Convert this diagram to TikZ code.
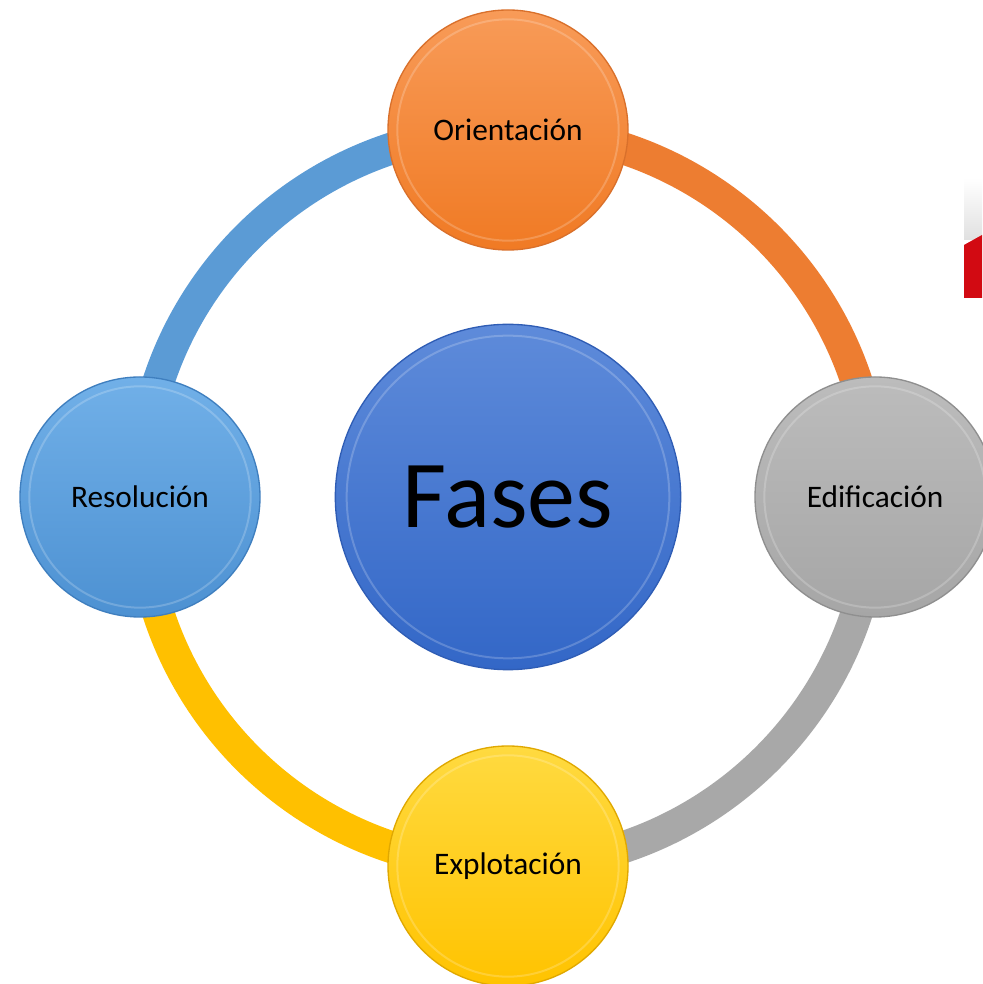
\documentclass[tikz,border=0pt]{standalone}
\usepackage{fontspec}
\setmainfont{Carlito}
\definecolor{ringblue}{HTML}{5B9BD5}
\definecolor{ringorange}{HTML}{ED7D31}
\definecolor{ringgray}{HTML}{A8A8A8}
\definecolor{ringgold}{HTML}{FFC000}
\definecolor{orTop}{HTML}{F89B58}
\definecolor{orBot}{HTML}{F07A24}
\definecolor{orEdge}{HTML}{D9702B}
\definecolor{grTop}{HTML}{BCBCBC}
\definecolor{grBot}{HTML}{A6A6A6}
\definecolor{grEdge}{HTML}{8F8F8F}
\definecolor{yeTop}{HTML}{FFDA40}
\definecolor{yeBot}{HTML}{FFC300}
\definecolor{yeEdge}{HTML}{E0A800}
\definecolor{lbTop}{HTML}{71B0E8}
\definecolor{lbBot}{HTML}{4D91D2}
\definecolor{lbEdge}{HTML}{3F7FBF}
\definecolor{cbTop}{HTML}{5E8BDA}
\definecolor{cbBot}{HTML}{3367C7}
\definecolor{cbEdge}{HTML}{2F5DB5}
\definecolor{redbar}{HTML}{D20A12}
\begin{document}
\begin{tikzpicture}[x=0.75pt,y=0.75pt,
  ringseg/.style={line width=24pt},
  bubble/.style={circle, minimum size=180pt, inner sep=0pt, line width=1pt, font=\fontsize{23.5}{28}\selectfont, text=black},
  hub/.style={circle, minimum size=259pt, inner sep=0pt, line width=1pt, font=\fontsize{72}{80}\selectfont, text=black},
  rim/.style={line width=1.5pt, white, opacity=0.2}]
\useasboundingbox (0,0) rectangle (982,984);
\fill[white] (0,0) rectangle (982,984);
% corner artefact on the right edge
\shade[top color=white, bottom color=black!12] (964,806) rectangle (982,744);
\fill[redbar] (964,739) -- (982,749) -- (982,686) -- (964,686) -- cycle;
% node positions
\coordinate (c0) at (508,487);
\node[bubble, opacity=0] (top) at (508,854) {};
\node[bubble, opacity=0] (right) at (875,487) {};
\node[bubble, opacity=0] (bottom) at (508,118) {};
\node[bubble, opacity=0] (left) at (140,487) {};
% ring segments
\draw[ringseg, ringblue] (left.center) to[bend left=45] (top.center);
\draw[ringseg, ringorange] (top.center) to[bend left=45] (right.center);
\draw[ringseg, ringgray] (right.center) to[bend left=45] (bottom.center);
\draw[ringseg, ringgold] (bottom.center) to[bend left=45] (left.center);
% bubbles
\node[bubble, draw=orEdge, top color=orTop, bottom color=orBot] (topB) at (top) {Orientación};
\node[bubble, draw=grEdge, top color=grTop, bottom color=grBot] (rightB) at (right) {Edificación};
\node[bubble, draw=yeEdge, top color=yeTop, bottom color=yeBot] (bottomB) at (bottom) {Explotación};
\node[bubble, draw=lbEdge, top color=lbTop, bottom color=lbBot] (leftB) at (left) {Resolución};
\node[hub, draw=cbEdge, top color=cbTop, bottom color=cbBot] (hubB) at (c0) {Fases};
% rims
\draw[rim] (topB.center) circle (83pt);
\draw[rim] (rightB.center) circle (83pt);
\draw[rim] (bottomB.center) circle (83pt);
\draw[rim] (leftB.center) circle (83pt);
\draw[rim] (hubB.center) circle (121pt);
\end{tikzpicture}
\end{document}
